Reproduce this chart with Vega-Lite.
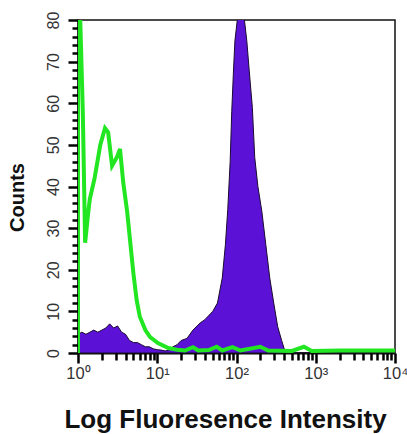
{
  "$schema": "https://vega.github.io/schema/vega-lite/v6.json",
  "width": 317,
  "height": 333,
  "autosize": "none",
  "padding": {"left": 78, "top": 20, "right": 12, "bottom": 81},
  "background": "white",
  "config": {
    "view": {"stroke": "#111", "strokeWidth": 1.5},
    "font": "Liberation Sans"
  },
  "resolve": {"axis": {"x": "independent", "y": "independent"}},
  "datasets": {
    "purple": [
      {"x": 1.0, "c": 4.5}, {"x": 1.12, "c": 5}, {"x": 1.26, "c": 4.5}, {"x": 1.41, "c": 5},
      {"x": 1.58, "c": 5.5}, {"x": 1.78, "c": 5}, {"x": 2.0, "c": 5.5}, {"x": 2.24, "c": 6},
      {"x": 2.51, "c": 7}, {"x": 2.82, "c": 6}, {"x": 3.16, "c": 6.5}, {"x": 3.55, "c": 5},
      {"x": 3.98, "c": 4.5}, {"x": 4.47, "c": 3}, {"x": 5.01, "c": 2.5}, {"x": 5.62, "c": 2.5},
      {"x": 6.31, "c": 2}, {"x": 7.08, "c": 1.5}, {"x": 7.94, "c": 1.5}, {"x": 8.91, "c": 1},
      {"x": 10.0, "c": 0.8}, {"x": 11.2, "c": 0.7}, {"x": 12.6, "c": 0.5}, {"x": 14.1, "c": 0.7},
      {"x": 15.8, "c": 1.5}, {"x": 17.8, "c": 2}, {"x": 20.0, "c": 3}, {"x": 23.7, "c": 3.5},
      {"x": 28.2, "c": 5.5}, {"x": 34.7, "c": 7.2}, {"x": 39.8, "c": 8}, {"x": 50.1, "c": 10},
      {"x": 57.5, "c": 12}, {"x": 66.1, "c": 18}, {"x": 72.4, "c": 26}, {"x": 77.6, "c": 34.5},
      {"x": 83.2, "c": 46}, {"x": 87.1, "c": 58}, {"x": 91.2, "c": 67}, {"x": 95.5, "c": 75},
      {"x": 102.3, "c": 80}, {"x": 109.6, "c": 84}, {"x": 117.5, "c": 84}, {"x": 125.9, "c": 80},
      {"x": 134.9, "c": 75}, {"x": 144.5, "c": 68}, {"x": 158.5, "c": 59}, {"x": 169.8, "c": 47},
      {"x": 186.2, "c": 40}, {"x": 208.9, "c": 34}, {"x": 234.4, "c": 26}, {"x": 263.0, "c": 18},
      {"x": 295.1, "c": 12}, {"x": 331.1, "c": 6.3}, {"x": 371.5, "c": 3}, {"x": 407.4, "c": 0.5},
      {"x": 446.7, "c": 0}, {"x": 10000, "c": 0}
    ],
    "green": [
      {"x": 1.0, "c": 0}, {"x": 1.0, "c": 90}, {"x": 1.05, "c": 85}, {"x": 1.15, "c": 58},
      {"x": 1.23, "c": 26.5}, {"x": 1.35, "c": 34}, {"x": 1.41, "c": 37}, {"x": 1.62, "c": 42},
      {"x": 1.91, "c": 50}, {"x": 2.19, "c": 54}, {"x": 2.4, "c": 53}, {"x": 2.69, "c": 45},
      {"x": 3.09, "c": 47}, {"x": 3.39, "c": 49}, {"x": 3.72, "c": 41}, {"x": 4.17, "c": 34},
      {"x": 4.57, "c": 26.5}, {"x": 5.01, "c": 19}, {"x": 5.5, "c": 12.7}, {"x": 6.03, "c": 8.7},
      {"x": 7.08, "c": 5.5}, {"x": 8.13, "c": 3.8}, {"x": 10.2, "c": 2.4}, {"x": 13.8, "c": 1.2},
      {"x": 17.8, "c": 0.8}, {"x": 22.4, "c": 0.6}, {"x": 28.2, "c": 1.4}, {"x": 33.0, "c": 0.6},
      {"x": 44.7, "c": 0.7}, {"x": 56.2, "c": 1.5}, {"x": 66.1, "c": 0.6}, {"x": 89.1, "c": 1.4},
      {"x": 112.2, "c": 0.6}, {"x": 199.5, "c": 1.5}, {"x": 251.2, "c": 0.6}, {"x": 501.2, "c": 0.5},
      {"x": 707.9, "c": 1.5}, {"x": 891.3, "c": 0.5}, {"x": 2000, "c": 0.6}, {"x": 10000, "c": 0.6}
    ]
  },
  "layer": [
    {
      "data": {"name": "purple"},
      "mark": {"type": "area", "color": "#5b12d6", "stroke": "#1a0a30", "strokeWidth": 1, "clip": true},
      "encoding": {
        "x": {
          "field": "x", "type": "quantitative",
          "scale": {"type": "log", "domain": [1, 10000]},
          "axis": {
            "orient": "bottom",
            "values": [1, 10, 100, 1000, 10000],
            "labelExpr": "datum.value == 1 ? '10⁰' : datum.value == 10 ? '10¹' : datum.value == 100 ? '10²' : datum.value == 1000 ? '10³' : '10⁴'",
            "labelOverlap": false,
            "labelFlush": false,
            "labelFontSize": 16.5,
            "labelColor": "#333",
            "labelPadding": 2,
            "labelDx": -7,
            "ticks": true,
            "tickColor": "#000",
            "tickWidth": 2.5,
            "tickSize": 10,
            "domainColor": "#111",
            "domainWidth": 2,
            "grid": false,
            "title": "Log Fluoresence Intensity",
            "titleFontSize": 26,
            "titleFontWeight": "bold",
            "titleColor": "#111",
            "titleX": 147,
            "titleY": 74,
            "titleBaseline": "alphabetic",
            "titleAlign": "center"
          }
        },
        "y": {
          "field": "c", "type": "quantitative",
          "scale": {"domain": [0, 80], "nice": false},
          "axis": {
            "orient": "left",
            "values": [0, 10, 20, 30, 40, 50, 60, 70, 80],
            "labelOverlap": false,
            "labelFlush": false,
            "labelAngle": -90,
            "labelAlign": "center",
            "labelBaseline": "alphabetic",
            "labelFontSize": 16,
            "labelColor": "#333",
            "labelPadding": 10,
            "ticks": true,
            "tickColor": "#000",
            "tickWidth": 2.5,
            "tickSize": 10,
            "domainColor": "#111",
            "domainWidth": 2,
            "grid": false,
            "title": "Counts",
            "titleFontSize": 20,
            "titleFontWeight": "bold",
            "titleColor": "#111",
            "titleAngle": -90,
            "titleX": -61,
            "titleY": 177,
            "titleAlign": "center",
            "titleBaseline": "middle"
          }
        }
      }
    },
    {
      "data": {"name": "green"},
      "mark": {"type": "line", "color": "#22e622", "strokeWidth": 4, "clip": true},
      "encoding": {
        "x": {
          "field": "x", "type": "quantitative",
          "axis": {
            "orient": "bottom",
            "values": [2,3,4,5,6,7,8,9,20,30,40,50,60,70,80,90,200,300,400,500,600,700,800,900,2000,3000,4000,5000,6000,7000,8000,9000],
            "labels": false,
            "domain": false,
            "grid": false,
            "title": null,
            "ticks": true,
            "tickColor": "#000",
            "tickWidth": 2.5,
            "tickSize": 7
          }
        },
        "y": {
          "field": "c", "type": "quantitative",
          "axis": {
            "orient": "left",
            "values": [2,4,6,8,12,14,16,18,22,24,26,28,32,34,36,38,42,44,46,48,52,54,56,58,62,64,66,68,72,74,76,78],
            "labels": false,
            "domain": false,
            "grid": false,
            "title": null,
            "ticks": true,
            "tickColor": "#000",
            "tickWidth": 2.5,
            "tickSize": 6
          }
        }
      }
    }
  ]
}
